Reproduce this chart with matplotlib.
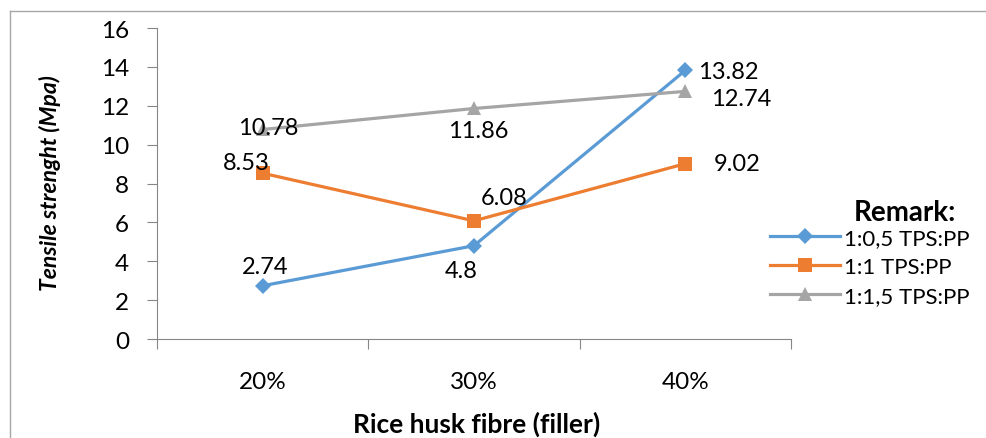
import matplotlib.pyplot as plt
from matplotlib.lines import Line2D

# Tensile strength of TPS:PP blends vs rice husk filler content.
categories = ['20%', '30%', '40%']
series_names = ['1:0,5 TPS:PP', '1:1 TPS:PP', '1:1,5 TPS:PP']
tps_05 = [2.74, 4.8, 13.82]
tps_10 = [8.53, 6.08, 9.02]
tps_15 = [10.78, 11.86, 12.74]
y_ticks = [0, 2, 4, 6, 8, 10, 12, 14, 16]

plt.rcParams['font.family'] = ['Lato', 'DejaVu Sans']

fig = plt.figure(figsize=(9.86, 4.39), dpi=100)
ax = fig.add_axes([0.1592, 0.2255, 0.6430, 0.7084])

x = list(range(len(categories)))
colors = ['#5B9BD5', '#ED7D31', '#A5A5A5']
markers = ['D', 's', '^']
sizes = [8, 9.5, 10]
all_series = [tps_05, tps_10, tps_15]

handles = []
for vals, c, m, ms, name in zip(all_series, colors, markers, sizes, series_names):
    h, = ax.plot(x, vals, color=c, marker=m, markersize=ms, linewidth=2.3,
                 markeredgewidth=0, label=name, zorder=3)
    handles.append(h)

# Value labels, offsets in points from each marker.
offsets = [
    [(2, 14), (-9, -18), (31, -1)],
    [(-11.5, 8), (22, 17), (37, 0)],
    [(4, 1.5), (3, -16), (40, -5)],
]
for vals, offs in zip(all_series, offsets):
    for xi, v, off in zip(x, vals, offs):
        ax.annotate(f'{v:g}', (xi, v), xytext=off, textcoords='offset points',
                    ha='center', va='center', fontsize=17, color='#000000', zorder=4)

ax.set_xlim(-0.5, 2.5)
ax.set_ylim(0, 16)
ax.set_yticks(y_ticks)
ax.set_xticks(x)
ax.set_xticklabels(categories)
ax.set_xticks([-0.5, 0.5, 1.5, 2.5], minor=True)
ax.tick_params(axis='x', which='major', length=0, pad=23, labelsize=17.5)
ax.tick_params(axis='x', which='minor', length=7, width=0.8, color='#868686')
ax.tick_params(axis='y', length=7.2, width=0.8, color='#868686', pad=13, labelsize=17.5)

for side in ['top', 'right']:
    ax.spines[side].set_visible(False)
for side in ['left', 'bottom']:
    ax.spines[side].set_color('#868686')
    ax.spines[side].set_linewidth(0.8)

fig.text(477 / 986, 1 - 424 / 439, 'Rice husk fibre (filler)', ha='center', va='center',
         fontsize=19, fontweight='bold')
fig.text(50 / 986, 1 - 183 / 439, 'Tensile strenght (Mpa)', ha='center', va='center',
         rotation=90, fontsize=16.5, fontweight='bold', fontstyle='italic')

# Legend with its heading placed separately.
fig.text(905 / 986, 1 - 213 / 439, 'Remark:', ha='center', va='center',
         fontsize=20, fontweight='bold')
fig.legend(handles=handles, loc='upper left', bbox_to_anchor=(770 / 986, 1 - 229 / 439),
           frameon=False, fontsize=16, handlelength=3.15, handletextpad=0.2,
           labelspacing=0.4, borderaxespad=0, borderpad=0)

# Chart frame on left and top edges.
fig.add_artist(Line2D([10 / 986, 10 / 986], [0, 1 - 12 / 439], color='#A6A6A6',
                      linewidth=1, transform=fig.transFigure))
fig.add_artist(Line2D([10 / 986, 1], [1 - 12 / 439, 1 - 12 / 439], color='#A6A6A6',
                      linewidth=1, transform=fig.transFigure))

fig.savefig('out.png', dpi=100)
